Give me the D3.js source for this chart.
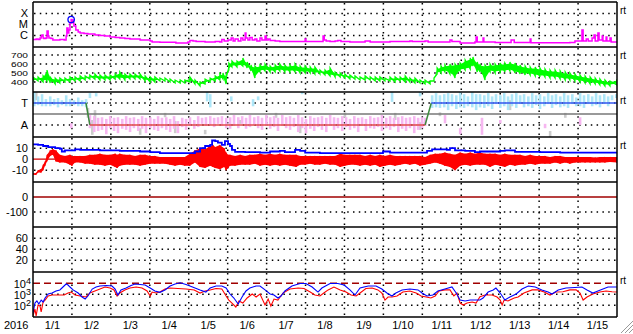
<!DOCTYPE html>
<html><head><meta charset="utf-8">
<script src="https://cdn.jsdelivr.net/npm/d3@7"></script>
<style>body{margin:0;background:#fff}svg{display:block;font-family:"Liberation Sans",Arial,sans-serif}</style>
</head><body><script>
const w = 633, h = 334
const dayLabels = ["1/1","1/2","1/3","1/4","1/5","1/6","1/7","1/8","1/9","1/10","1/11","1/12","1/13","1/14","1/15"]

// GOES X-ray flux [day, W/m2]
const xray = [[0,4.3e-7],[0.08,4.8e-7],[0.13,4.3e-7],[0.18,5.9e-7],[0.21,9e-7],[0.23,1.1e-6],[0.26,5.9e-7],[0.28,5.3e-7],[0.33,5.9e-7],[0.36,2.6e-6],[0.39,9e-7],[0.41,5.9e-7],[0.46,5.3e-7],[0.51,3.9e-7],[0.64,3.9e-7],[0.69,4.3e-7],[0.8,3.9e-7],[0.85,9e-7],[0.87,4.8e-6],[0.9,1.7e-6],[0.92,3.2e-6],[0.95,1.4e-5],[0.98,2.85e-5],[1,2.6e-5],[1.03,1.4e-5],[1.05,7.3e-6],[1.1,3.2e-6],[1.16,2.1e-6],[1.21,1.7e-6],[1.31,1.5e-6],[1.41,1.4e-6],[1.59,1.1e-6],[1.72,1e-6],[1.85,9e-7],[1.98,7.3e-7],[2.11,6.6e-7],[2.23,5.9e-7],[2.36,5.3e-7],[2.49,4.8e-7],[2.75,3.9e-7],[3.01,3.2e-7],[3.06,2.6e-7],[3.26,2.4e-7],[3.67,2.1e-7],[3.98,2.6e-7],[4.03,3.5e-7],[4.11,3.2e-7],[4.19,2.85e-7],[4.42,2.6e-7],[4.68,2.85e-7],[4.8,2.6e-7],[4.85,4.3e-7],[4.91,3.2e-7],[5.01,3.9e-7],[5.09,5.9e-7],[5.14,3.2e-7],[5.19,4.8e-7],[5.27,3.2e-7],[5.34,5.9e-7],[5.39,3.9e-7],[5.45,1.7e-6],[5.47,5.9e-7],[5.52,3.9e-7],[5.57,6.6e-7],[5.63,3.9e-7],[5.7,4.8e-7],[5.75,3.2e-7],[5.83,5.9e-7],[5.88,3.9e-7],[5.96,9e-7],[5.99,3.9e-7],[6.04,4.8e-7],[6.09,3.5e-7],[6.22,3.2e-7],[6.34,2.85e-7],[6.99,4.8e-7],[7.01,2.85e-7],[7.45,9e-7],[7.48,3.9e-7],[7.53,3.2e-7],[7.63,2.85e-7],[7.76,3.2e-7],[7.83,3.5e-7],[7.91,2.85e-7],[8.14,2.6e-7],[8.53,3.2e-7],[8.66,2.6e-7],[9.17,2.85e-7],[9.68,3.2e-7],[9.74,2.85e-7],[10.07,3.2e-7],[10.15,2.6e-7],[10.71,3.9e-7],[10.76,2.85e-7],[10.97,2.1e-7],[11.35,2.6e-7],[11.38,7.3e-7],[11.41,2.6e-7],[11.56,5.9e-7],[11.58,2.6e-7],[11.87,2.3e-7],[12.28,3.9e-7],[12.36,2.3e-7],[12.77,4.8e-7],[12.79,2.2e-7],[13.79,2.3e-7],[13.92,3.2e-7],[14.1,3.2e-6],[14.13,3.2e-7],[14.21,4.8e-7],[14.26,3.2e-7],[14.36,5.9e-7],[14.41,1.1e-6],[14.44,3.2e-7],[14.51,1.7e-6],[14.54,3.9e-7],[14.62,9e-7],[14.64,3.2e-7],[14.72,7.3e-7],[14.74,3.2e-7],[14.82,5.9e-7],[14.85,2.6e-7],[15,2.6e-7]]
const flarePeak = [0.98, 2.85e-5]
const xrayTicks = [1e-4, 1e-5, 1e-6], xrayNames = ["X", "M", "C"]

// solar wind speed band [day, min, max] km/s
const speed = [[0,400,456],[0.13,411,456],[0.26,400,467],[0.36,411,533],[0.44,389,456],[0.57,378,444],[0.69,389,444],[0.82,400,444],[0.95,400,456],[1.08,411,456],[1.21,411,467],[1.34,422,467],[1.46,433,478],[1.59,433,489],[1.72,422,478],[1.85,422,478],[1.98,422,478],[2.11,433,489],[2.23,433,511],[2.36,422,489],[2.49,433,489],[2.62,433,489],[2.75,433,489],[2.88,411,467],[3.01,400,456],[3.13,400,456],[3.26,411,444],[3.39,411,444],[3.52,400,433],[3.65,389,422],[3.78,389,422],[3.9,389,422],[4.03,400,456],[4.16,378,422],[4.29,356,400],[4.42,378,433],[4.55,400,444],[4.68,411,467],[4.8,422,489],[4.88,433,500],[4.96,378,478],[5.03,533,611],[5.11,567,633],[5.24,567,633],[5.39,578,667],[5.5,556,622],[5.6,522,589],[5.7,444,578],[5.83,511,589],[5.96,522,600],[6.09,511,578],[6.22,511,589],[6.34,522,600],[6.47,511,589],[6.6,511,589],[6.73,511,600],[6.86,500,578],[6.99,500,578],[7.12,500,567],[7.24,489,567],[7.37,489,533],[7.5,478,533],[7.63,467,556],[7.76,456,511],[7.89,456,500],[8.01,444,489],[8.14,433,478],[8.27,433,467],[8.4,422,456],[8.53,422,467],[8.66,422,456],[8.79,411,456],[8.91,411,456],[9.04,411,444],[9.17,411,456],[9.3,400,456],[9.43,411,456],[9.56,400,467],[9.68,400,444],[9.81,389,444],[9.94,389,422],[10.07,378,422],[10.2,378,411],[10.3,411,444],[10.38,489,556],[10.48,500,578],[10.58,511,589],[10.71,489,600],[10.84,444,600],[10.97,522,611],[11.1,533,644],[11.23,544,667],[11.3,578,678],[11.41,511,622],[11.48,511,600],[11.61,422,589],[11.74,511,600],[11.87,500,600],[12,511,611],[12.12,511,611],[12.25,522,622],[12.38,500,611],[12.51,489,589],[12.64,478,578],[12.77,478,567],[12.9,467,567],[13.02,456,556],[13.15,456,544],[13.28,444,533],[13.41,444,533],[13.54,433,522],[13.67,422,511],[13.79,422,500],[13.92,411,489],[14.05,400,478],[14.18,389,467],[14.31,378,456],[14.44,378,444],[14.56,367,433],[14.69,356,422],[14.82,356,411],[15,367,433]]
const speedTicks = [400, 500, 600, 700]

// IMF sector: scatter bins [day, lo, hi] and polarity line
const phiToward = [[0.03,0.7,2],[0.13,0.8,1.6],[0.23,0.7,1.8],[0.33,0.7,1.35],[0.44,0.7,1.6],[0.54,0.8,1.35],[0.64,0.6,1.45],[0.74,0.8,1.25],[0.85,0.7,1.7],[0.95,0.7,1.35],[1.05,0.8,1.25],[1.16,0.7,1.5],[1.26,0.7,1.25],[1.36,0.6,1.35],[1.46,1.45,1.9],[1.62,1.6,1.9],[4.47,1.15,2],[4.55,0.6,1.8],[5.09,1.15,1.6],[5.65,0.7,1.35],[5.78,1.25,1.6],[6.91,1.8,2],[9.22,1.1,2],[9.94,1.6,2],[10.25,0.55,1.7],[10.35,0.6,1.9],[10.45,0.55,1.7],[10.56,0.6,1.8],[10.66,0.35,1.9],[10.76,0.7,1.8],[10.87,0.45,1.7],[10.97,0.6,2],[11.07,0.55,1.8],[11.17,0.7,1.6],[11.28,0.6,2],[11.38,0.35,1.8],[11.48,0.6,1.8],[11.59,0.55,1.7],[11.69,0.7,1.9],[11.79,0.45,1.6],[11.89,0.9,1.8],[12,0.55,1.7],[12.1,0.7,1.9],[12.2,0.35,1.6],[12.3,0.7,1.8],[12.41,0.55,1.9],[12.51,0.9,1.7],[12.61,0.6,1.8],[12.72,0.7,1.6],[12.82,0.55,1.9],[12.92,0.8,1.7],[13.02,0.45,1.8],[13.13,0.7,1.6],[13.23,0.9,1.9],[13.33,0.55,1.7],[13.43,0.8,1.8],[13.54,0.6,1.6],[13.64,0.7,1.9],[13.74,0.55,1.7],[13.85,0.9,1.8],[13.95,0.7,1.5],[14.05,0.7,1.9],[14.15,0.55,1.7],[14.26,0.9,1.8],[14.36,0.7,1.6],[14.46,0.8,1.9],[14.56,0.6,1.7],[14.67,0.9,1.8],[14.77,0.7,1.6],[14.87,1.25,1.7],[14.98,1.45,1.8]]
const phiAway = [[0.98,-1.3,-0.85],[1.46,-1.3,-0.1],[1.57,-1.65,-0.2],[1.67,-1.55,-0.35],[1.77,-1.45,-0.3],[1.88,-1.85,-0.45],[1.98,-1.3,-0.2],[2.08,-1.55,-0.35],[2.18,-1.75,-0.3],[2.29,-1.35,-0.45],[2.39,-1.45,-0.2],[2.49,-1.65,-0.35],[2.59,-1.3,-0.3],[2.7,-1.55,-0.45],[2.8,-1.35,-0.2],[2.9,-1.75,-0.35],[3.01,-1.3,-0.3],[3.11,-1.45,-0.45],[3.21,-1.55,-0.2],[3.31,-1.3,-0.35],[3.42,-1.45,-0.3],[3.52,-1.65,-0.45],[3.62,-1.35,-0.2],[3.72,-1.75,-0.65],[3.83,-1.2,-0.35],[3.93,-1.45,-0.45],[4.03,-1.1,-0.3],[4.14,-1.35,-0.55],[4.24,-1.2,-0.2],[4.34,-0.9,-0.35],[4.44,-1.1,-0.3],[4.55,-1,-0.2],[4.65,-1.2,-0.35],[4.75,-0.9,-0.3],[4.85,-1.1,-0.2],[4.96,-1.3,-0.35],[5.06,-1.35,-0.3],[5.16,-1.1,-0.1],[5.27,-1.3,-0.3],[5.37,-0.9,-0.2],[5.47,-1.35,-0.35],[5.57,-1.2,-0.1],[5.68,-1,-0.3],[5.78,-1.3,-0.2],[5.88,-1.45,-0.35],[5.99,-1.1,-0.1],[6.09,-1.35,-0.3],[6.19,-1.2,-0.2],[6.29,-1.55,-0.35],[6.4,-1.1,-0.1],[6.5,-1.3,-0.3],[6.6,-1.45,-0.2],[6.7,-1.2,-0.35],[6.81,-1.65,-0.1],[6.91,-1.3,-0.3],[7.01,-1.75,-0.45],[7.12,-1.35,-0.2],[7.22,-1.55,-0.35],[7.32,-1.2,-0.3],[7.42,-1.45,-0.2],[7.53,-1.65,-0.35],[7.63,-1.1,-0.1],[7.73,-1.45,-0.3],[7.83,-1.3,-0.35],[7.94,-1.55,-0.2],[8.04,-1.2,-0.3],[8.14,-1.45,-0.45],[8.25,-1.3,-0.2],[8.35,-1.65,-0.35],[8.45,-1.1,-0.3],[8.55,-1.55,-0.45],[8.66,-1.3,-0.2],[8.76,-1.35,-0.35],[8.86,-1.2,-0.3],[8.96,-1.55,-0.1],[9.07,-1.3,-0.35],[9.17,-1.45,-0.2],[9.27,-1.2,-0.35],[9.38,-1.65,-0.3],[9.48,-1.35,-0.2],[9.58,-1.55,-0.35],[9.68,-1.3,-0.3],[9.79,-1.75,-0.2],[9.89,-1.45,-0.35],[9.99,-1.3,-0.3],[10.07,-1.1,-0.35],[10.58,-0.85,-0.1],[10.97,-1.85,-1.3],[11.53,-1.9,-0.35],[12,-0.85,-0.55],[13.15,-1.3,-0.9],[14.05,-1,-0.3]]
const phiOther = [[0.08,1.25,2],[1.41,-0.35,0.55],[1.52,-1.9,-0.55],[1.59,-1,0.35],[2.75,-1.9,-1.3],[3.39,-0.3,0.1],[3.65,-1.75,-0.65],[4.42,-1.85,-1.45],[5.32,-0.9,-0.55],[6.24,-0.35,0.1],[6.86,-1.75,-1],[8.01,-0.35,0.15],[9.3,-0.55,0.1],[9.94,-1.45,-0.75],[10.45,-0.2,0.15],[12.25,0.35,1.25],[13.67,-0.35,0.1],[13.28,-2.1,-1.55]]
const sector = [[0,1],[1.36,1],[1.46,-1],[10.07,-1],[10.23,1],[15,1]]

// IMF Bt and Bz [day, nT]
const bt = [[0,13.5],[0.13,13],[0.26,12],[0.39,11],[0.57,10],[0.69,9.5],[0.74,7],[0.82,8],[0.95,8],[1.08,9],[1.21,8.5],[1.46,8.5],[1.72,8],[1.98,8],[2.23,7.5],[2.49,7.5],[2.75,7],[3.01,6.5],[3.26,5.5],[3.65,5.5],[4.03,5.5],[4.16,7],[4.29,10],[4.42,12],[4.55,13],[4.6,17],[4.68,16.5],[4.75,15],[4.85,13],[4.93,16.5],[5.01,14],[5.06,12],[5.11,8.5],[5.19,6.6],[5.45,6.5],[5.83,6],[6.09,7],[6.34,7.5],[6.47,6.5],[6.73,8.5],[6.86,7.5],[6.99,6],[7.37,5.5],[8.14,5.5],[8.91,5.5],[8.99,7],[9.17,6],[9.94,6],[10.12,7.5],[10.25,9],[10.45,9],[10.63,8.5],[10.71,10],[10.84,8],[11.1,7.5],[11.35,6.5],[11.48,7],[12,7.5],[12.12,8],[12.38,6.7],[13.02,6.5],[13.54,6],[15,6]]
const bz = [[0,-14,-13],[0.08,-14,-12.5],[0.13,-12,-10],[0.21,-12,-9],[0.26,-10,-5],[0.31,-6,-2],[0.36,-2,4],[0.44,3,8],[0.51,4,9],[0.59,-2,8],[0.69,-3,4],[0.82,-3,3],[0.95,-5,4],[1,-6,3],[1.08,-3,3],[1.21,-3,3],[1.34,-4,3],[1.46,-4,4],[1.59,-5,4],[1.72,-5,5],[1.85,-6,4],[1.98,-5,4],[2.11,-7,5],[2.16,-8,4],[2.23,-6,5],[2.36,-5,4],[2.49,-5,4],[2.62,-5,3],[2.75,-6,4],[2.88,-5,4],[3.01,-4,3],[3.13,-4,3],[3.26,-4,2],[3.39,-4,2],[3.52,-5,2],[3.65,-6,2],[3.78,-5,2],[3.9,-6,2],[4.03,-6,5],[4.16,-3,8],[4.29,-7,10],[4.42,-8,9],[4.55,-6,12],[4.62,-7,13],[4.68,-8,11],[4.8,-9,13],[4.91,-7,10],[4.96,-10,6],[5.01,-8,4],[5.06,-6,4],[5.19,-6,3],[5.32,-5,4],[5.45,-5,3],[5.57,-5,4],[5.7,-4,4],[5.83,-6,5],[5.96,-5,4],[6.09,-6,5],[6.22,-5,4],[6.34,-6,5],[6.47,-5,4],[6.6,-6,4],[6.76,-7,4],[6.86,-5,3],[6.99,-5,3],[7.12,-4,3],[7.24,-5,3],[7.37,-5,3],[7.5,-4,3],[7.63,-5,3],[7.76,-5,3],[7.89,-7,5],[8.01,-6,4],[8.14,-5,4],[8.27,-5,4],[8.4,-6,4],[8.53,-5,3],[8.66,-6,4],[8.79,-5,3],[8.91,-7,4],[9.04,-6,3],[9.17,-5,4],[9.3,-6,3],[9.43,-5,3],[9.56,-4,3],[9.68,-5,3],[9.81,-4,3],[9.94,-6,3],[10.07,-5,2],[10.2,-4,4],[10.33,-3,5],[10.45,-4,5],[10.58,-6,6],[10.71,-7,5],[10.84,-10,4],[10.97,-6,6],[11.1,-5,5],[11.23,-6,6],[11.35,-5,5],[11.48,-5,6],[11.61,-5,5],[11.74,-7,5],[11.87,-5,5],[12,-6,4],[12.12,-7,5],[12.25,-5,4],[12.38,-6,4],[12.51,-5,4],[12.64,-5,3],[12.77,-4,4],[12.9,-5,3],[13.02,-4,3],[13.15,-4,3],[13.28,-4,2],[13.41,-3,3],[13.54,-4,3],[13.67,-3,2],[13.79,-4,2],[13.92,-3,2],[14.05,-3,2],[14.18,-3,2],[14.31,-3,2],[14.44,-3,1.5],[14.56,-3,2],[14.69,-3,2],[14.82,-2.5,2],[15,-3,2]]
const bTicks = [10, 0, -10]

const dstTicks = [0, -100]
const kpTicks = [60, 40, 20]

// electron flux [day, value]
const fluxBlue = [[0,20],[0.05,160],[0.1,250],[0.15,130],[0.21,300],[0.26,200],[0.31,460],[0.39,1060],[0.49,1300],[0.59,2000],[0.69,2500],[0.77,4600],[0.85,8600],[0.9,7000],[0.95,4600],[1.03,2500],[1.16,1300],[1.26,570],[1.34,370],[1.41,700],[1.52,3000],[1.62,4600],[1.72,5700],[1.88,6300],[2.03,5700],[2.11,3000],[2.18,860],[2.26,2500],[2.39,3700],[2.52,6300],[2.62,8600],[2.75,7800],[2.88,7000],[3.01,3700],[3.13,2000],[3.26,1500],[3.39,2500],[3.52,5700],[3.65,8600],[3.78,11300],[3.93,7800],[4.08,4900],[4.29,2500],[4.44,1600],[4.55,3700],[4.7,5700],[4.85,5700],[4.96,3700],[5.06,1060],[5.16,460],[5.27,130],[5.37,570],[5.47,2000],[5.57,3700],[5.73,5700],[5.83,5700],[5.96,2500],[6.09,1060],[6.19,860],[6.29,460],[6.37,700],[6.47,2000],[6.65,5700],[6.86,9600],[7.01,9600],[7.17,4600],[7.32,1600],[7.42,3700],[7.63,9600],[7.83,9600],[7.99,7000],[8.14,2500],[8.27,860],[8.4,3700],[8.61,5700],[8.81,5700],[8.96,3000],[9.09,1300],[9.22,700],[9.32,1300],[9.48,2500],[9.68,3000],[9.89,2500],[9.99,1300],[10.12,700],[10.27,860],[10.4,2000],[10.58,3000],[10.76,4600],[10.87,1300],[10.97,300],[11.1,250],[11.23,300],[11.38,300],[11.48,300],[11.56,460],[11.69,1600],[11.82,2500],[11.89,3700],[12,1300],[12.12,300],[12.25,570],[12.41,1060],[12.56,3000],[12.72,5700],[12.9,4600],[13.07,2500],[13.23,1600],[13.33,1060],[13.49,2500],[13.69,3700],[13.92,4200],[14.1,4600],[14.23,2500],[14.38,1300],[14.51,2000],[14.64,3000],[14.77,4600],[15,4600]]
const fluxRed = [[0,11],[0.05,46],[0.08,11],[0.13,106],[0.18,86],[0.21,25],[0.26,200],[0.31,300],[0.39,700],[0.49,860],[0.64,860],[0.8,860],[0.9,1300],[0.98,1600],[1.08,860],[1.21,700],[1.36,570],[1.46,1300],[1.59,2000],[1.72,3000],[1.85,4600],[1.98,3700],[2.08,2500],[2.16,700],[2.23,1300],[2.36,2500],[2.49,3700],[2.65,4600],[2.8,3700],[2.93,2000],[3.01,700],[3.06,1600],[3.16,1300],[3.26,1600],[3.39,3000],[3.52,3700],[3.72,3400],[3.93,3000],[4.14,2500],[4.29,1300],[4.42,2000],[4.55,2500],[4.7,3400],[4.85,3000],[4.96,700],[5.03,300],[5.11,160],[5.21,70],[5.29,250],[5.39,160],[5.5,460],[5.63,1060],[5.73,570],[5.83,1060],[5.96,106],[6.04,370],[6.11,86],[6.19,370],[6.29,300],[6.42,1300],[6.6,3000],[6.81,3700],[6.96,3400],[7.12,1600],[7.24,860],[7.37,700],[7.47,1300],[7.58,2500],[7.73,4600],[7.89,2500],[8.04,1600],[8.17,860],[8.3,700],[8.4,1300],[8.55,3400],[8.71,3700],[8.86,2500],[8.96,1300],[9.04,300],[9.12,570],[9.22,570],[9.35,700],[9.5,1600],[9.68,2000],[9.84,1300],[9.97,700],[10.1,570],[10.22,460],[10.33,700],[10.43,2000],[10.58,2500],[10.71,2500],[10.81,700],[10.89,1300],[10.97,160],[11.05,106],[11.15,160],[11.28,200],[11.38,160],[11.48,605],[11.61,860],[11.79,860],[11.92,570],[12,300],[12.05,106],[12.1,300],[12.2,250],[12.36,460],[12.46,570],[12.61,1300],[12.82,2500],[12.97,2500],[13.13,1600],[13.28,860],[13.43,1600],[13.61,1700],[13.79,2500],[13.95,2500],[14.05,1300],[14.13,300],[14.23,570],[14.38,1060],[14.56,1600],[14.72,2000],[14.87,1700],[15,1600]]
const fluxTicks = [1e4, 1e3, 1e2]
const fluxAlert = 1e4

const svg = d3.select("body").append("svg").attr("width", w).attr("height", h)
const tops = [2, 47, 92, 137, 182, 227, 272]
const ph = 45
const x = d3.scaleLinear().domain([0, 15]).range([33, 617])

const yX = d3.scaleLog().domain([1e-7, 1e-3]).range([46.5, 2.5])
const yV = d3.scaleLinear().domain([300, 800]).range([91, 46])
const yP = d3.scaleLinear().domain([-2.1, 2]).range([137, 92])
const yB = d3.scaleLinear().domain([-20.7, 20.2]).range([182, 137])
const yD = d3.scaleLinear().domain([-200, 100]).range([227, 182])
const yK = d3.scaleLinear().domain([0, 80]).range([271.3, 227.3])
const yF = d3.scaleLog().domain([10, 1e5]).range([316.3, 272.3])

const defs = svg.append("defs")
tops.forEach((t, i) => defs.append("clipPath").attr("id", "c" + i).append("rect").attr("x", 33).attr("y", t).attr("width", 584).attr("height", ph))
const layer = i => svg.append("g").attr("clip-path", "url(#c" + i + ")")

// grid
const dot = g => g.attr("stroke", "#000").attr("stroke-width", 1.5).attr("stroke-dasharray", "1.5,4.3")
const grid = svg.append("g")
tops.forEach(t => {
  grid.selectAll(null).data(d3.range(1, 15)).enter().append("line")
    .attr("x1", d => x(d)).attr("x2", d => x(d)).attr("y1", t + 1).attr("y2", t + ph).call(dot)
})
const hgrid = (vals, y) => grid.selectAll(null).data(vals).enter().append("line")
  .attr("x1", 34).attr("x2", 616).attr("y1", d => y(d)).attr("y2", d => y(d)).call(dot)
hgrid(xrayTicks, yX); hgrid(speedTicks, yV); hgrid([1, -1], yP); hgrid([10, -10], yB)
hgrid([-100], yD); hgrid(kpTicks, yK); hgrid([1e3, 1e2], yF)

// each sample's min then max, joined in time order -> jagged trace
const saw = data => data.flatMap(d => [[d[0], d[1]], [d[0], d[2]]])

// panel 1: x-ray
const g0 = layer(0)
g0.append("path").datum(xray).attr("fill", "none").attr("stroke", "#ff00ff").attr("stroke-width", 1.5)
  .attr("d", d3.line().x(d => x(d[0])).y(d => yX(d[1])).curve(d3.curveStepAfter))
g0.append("circle").attr("cx", x(flarePeak[0])).attr("cy", yX(flarePeak[1])).attr("r", 3.2)
  .attr("fill", "none").attr("stroke", "#0000ff").attr("stroke-width", 1.3)

// panel 2: speed
const g1 = layer(1)
g1.append("path").datum(speed).attr("fill", "#00ff00").attr("stroke", "none")
  .attr("d", d3.area().x(d => x(d[0])).y0(d => yV(d[1]) - 1.5).y1(d => yV(d[2]) + 1.5))
g1.append("path").datum(saw(speed)).attr("fill", "none").attr("stroke", "#00ff00").attr("stroke-width", 1.3)
  .attr("d", d3.line().x(d => x(d[0])).y(d => yV(d[1])))

// panel 3: sector
const g2 = layer(2)
const bars = (data, color) => g2.selectAll(null).data(data).enter().append("rect")
  .attr("x", d => x(d[0]) - 1.2).attr("width", 2.6).attr("y", d => yP(d[2])).attr("height", d => yP(d[1]) - yP(d[2])).attr("fill", color)
bars(phiOther, "#cccccc"); bars(phiAway, "#f6b6f0"); bars(phiToward, "#ade6f8")
g2.append("line").attr("x1", 33).attr("x2", 617).attr("y1", yP(0)).attr("y2", yP(0)).attr("stroke", "#777").attr("stroke-width", 1.5)
d3.pairs(sector).forEach(([a, b]) => {
  const c = a[1] !== b[1] ? "#3c8a3c" : (a[1] > 0 ? "#3355ee" : "#e04848")
  g2.append("line").attr("x1", x(a[0])).attr("x2", x(b[0])).attr("y1", yP(a[1])).attr("y2", yP(b[1])).attr("stroke", c).attr("stroke-width", 1.5)
})

// panel 4: Bt / Bz
const g3 = layer(3)
g3.append("line").attr("x1", 33).attr("x2", 617).attr("y1", yB(0)).attr("y2", yB(0)).attr("stroke", "#d00000").attr("stroke-width", 1.2)
g3.append("path").datum(bz).attr("fill", "#ff0000").attr("stroke", "none")
  .attr("d", d3.area().x(d => x(d[0])).y0(d => yB(d[1])).y1(d => yB(d[2])))
g3.append("path").datum(saw(bz)).attr("fill", "none").attr("stroke", "#ff0000").attr("stroke-width", 1)
  .attr("d", d3.line().x(d => x(d[0])).y(d => yB(d[1])))
g3.append("path").datum(bt).attr("fill", "none").attr("stroke", "#0000ff").attr("stroke-width", 1.8)
  .attr("d", d3.line().x(d => x(d[0])).y(d => yB(d[1])).curve(d3.curveStepAfter))

// panel 5: Dst zero
layer(4).append("line").attr("x1", 33).attr("x2", 617).attr("y1", yD(0)).attr("y2", yD(0)).attr("stroke", "#a00000").attr("stroke-width", 1.5)

// panel 7: flux
const g6 = layer(6)
g6.append("line").attr("x1", 33).attr("x2", 617).attr("y1", yF(fluxAlert)).attr("y2", yF(fluxAlert))
  .attr("stroke", "#a00000").attr("stroke-width", 1.5).attr("stroke-dasharray", "7,4")
const fl = d3.line().x(d => x(d[0])).y(d => yF(d[1]))
g6.append("path").datum(fluxRed).attr("fill", "none").attr("stroke", "#ff0000").attr("stroke-width", 1.1).attr("d", fl)
g6.append("path").datum(fluxBlue).attr("fill", "none").attr("stroke", "#0000ff").attr("stroke-width", 1.1).attr("d", fl)

// frames
const fr = svg.append("g").attr("stroke", "#000").attr("stroke-width", 1.5)
tops.concat([317]).forEach(t => fr.append("line").attr("x1", 33).attr("x2", 617).attr("y1", t).attr("y2", t))
fr.append("line").attr("x1", 33).attr("x2", 33).attr("y1", 2).attr("y2", 317)
fr.append("line").attr("x1", 617).attr("x2", 617).attr("y1", 2).attr("y2", 317)

// labels
const lab = svg.append("g").attr("font-size", 11).attr("fill", "#000")
const ylab = (vals, y, fmt) => lab.selectAll(null).data(vals).enter().append("text")
  .attr("x", 28).attr("y", d => y(d)).attr("dy", "0.36em").attr("text-anchor", "end").text(fmt)
ylab(xrayTicks, yX, (d, i) => xrayNames[i])
// speed labels sit 9px apart, so they are set small and widened
lab.selectAll(null).data(speedTicks).enter().append("text")
  .attr("transform", d => "translate(28," + yV(d) + ") scale(1.3,1)")
  .attr("font-size", 7.8).attr("dy", "0.36em").attr("text-anchor", "end").text(d => d)
ylab([1, -1], yP, d => d > 0 ? "T" : "A")
ylab(bTicks, yB, d => d)
ylab(dstTicks, yD, d => d)
ylab(kpTicks, yK, d => d)
fluxTicks.forEach(v => {
  const t = lab.append("text").attr("x", 31).attr("y", yF(v)).attr("dy", "0.4em").attr("text-anchor", "end")
  t.append("tspan").text("10")
  t.append("tspan").attr("dy", "-0.45em").attr("font-size", 9).text(Math.round(Math.log10(v)))
})
lab.selectAll(null).data(dayLabels).enter().append("text")
  .attr("x", (d, i) => x(i + 0.5)).attr("y", 328.5).attr("text-anchor", "middle").text(d => d)
lab.append("text").attr("x", 4).attr("y", 328.5).text("2016")
svg.append("g").attr("font-size", 10).selectAll(null).data([0, 1, 2, 3, 6]).enter().append("text")
  .attr("x", 620).attr("y", i => tops[i] + 11.5).text("rt")

// resize grip
const grip = svg.append("g").attr("stroke-width", 1)
;[[621, 333], [625, 333], [629, 333]].forEach(([a, b]) => {
  grip.append("line").attr("x1", a).attr("y1", b).attr("x2", 633).attr("y2", b - (633 - a)).attr("stroke", "#999")
  grip.append("line").attr("x1", a + 1).attr("y1", b).attr("x2", 633).attr("y2", b - (632 - a)).attr("stroke", "#fff")
})
</script></body></html>
